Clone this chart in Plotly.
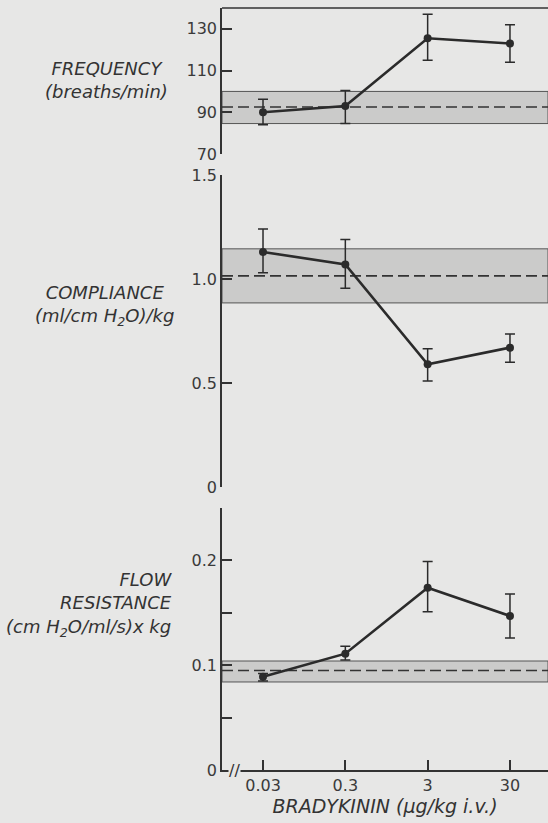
import plotly.graph_objects as go

# ---- data ----
doses = [0.03, 0.3, 3, 30]
dose_labels = ["0.03", "0.3", "3", "30"]

freq = [90, 93, 125.5, 123]
freq_hi = [96.3, 100.5, 137, 132]
freq_lo = [84, 84.6, 115, 114]
freq_band = [84.6, 100]
freq_mean = 92.5

comp = [1.13, 1.07, 0.59, 0.67]
comp_hi = [1.24, 1.19, 0.665, 0.735]
comp_lo = [1.03, 0.955, 0.51, 0.60]
comp_band = [0.885, 1.145]
comp_mean = 1.015

res = [0.089, 0.111, 0.174, 0.147]
res_hi = [0.092, 0.118, 0.199, 0.168]
res_lo = [0.085, 0.105, 0.151, 0.126]
res_band = [0.084, 0.104]
res_mean = 0.095

BG = "#e7e7e6"
INK = "#2b2b2b"
FONT = "DejaVu Sans"

W, H = 548, 823
def py(p):
    return 1 - p / H

fig = go.Figure()

x_dom = [222 / W, 1.0]
x_range = [-2.021, 1.939]

panels = [
    dict(y=freq, hi=freq_hi, lo=freq_lo, band=freq_band, mean=freq_mean,
         dom=[py(154), py(8)], rng=[70, 140],
         tv=[70, 90, 110, 130], tt=["70", "90", "110", "130"]),
    dict(y=comp, hi=comp_hi, lo=comp_lo, band=comp_band, mean=comp_mean,
         dom=[py(487), py(175)], rng=[0, 1.5],
         tv=[0, 0.5, 1.0, 1.5], tt=["0", "0.5", "1.0", "1.5"]),
    dict(y=res, hi=res_hi, lo=res_lo, band=res_band, mean=res_mean,
         dom=[py(770), py(508)], rng=[0, 0.25],
         tv=[0, 0.05, 0.1, 0.15, 0.2, 0.25], tt=["0", "", "0.1", "", "0.2", ""]),
]

shapes = []
layout_axes = {}
for i, p in enumerate(panels, start=1):
    xa = "x" if i == 1 else f"x{i}"
    ya = "y" if i == 1 else f"y{i}"
    xkey = "xaxis" if i == 1 else f"xaxis{i}"
    ykey = "yaxis" if i == 1 else f"yaxis{i}"
    # band
    shapes.append(dict(type="rect", xref=f"{xa} domain", yref=ya, x0=0, x1=1,
                       y0=p["band"][0], y1=p["band"][1], fillcolor="#cbcbca",
                       line=dict(color="#555555", width=1), layer="below"))
    shapes.append(dict(type="line", xref=f"{xa} domain", yref=ya, x0=0, x1=1,
                       y0=p["mean"], y1=p["mean"],
                       line=dict(color="#333333", width=1.6, dash="11px,5px"), layer="below"))
    fig.add_trace(go.Scatter(
        x=doses, y=p["y"], mode="lines+markers", xaxis=xa, yaxis=ya,
        line=dict(color=INK, width=2.6),
        marker=dict(color=INK, size=8),
        error_y=dict(type="data", symmetric=False,
                     array=[h - v for h, v in zip(p["hi"], p["y"])],
                     arrayminus=[v - l for l, v in zip(p["lo"], p["y"])],
                     color=INK, thickness=1.5, width=5),
        showlegend=False, cliponaxis=False))
    bottom = (i == 3)
    layout_axes[xkey] = dict(
        type="log", domain=x_dom, range=x_range, anchor=ya, automargin=False,
        tickvals=doses, ticktext=dose_labels if bottom else [""] * 4,
        showline=bottom, linecolor="#333333", linewidth=1.5,
        ticks="inside" if bottom else "", ticklen=10, tickwidth=1.5, tickcolor="#333333",
        showticklabels=bottom, showgrid=False, zeroline=False,
        tickfont=dict(family=FONT, size=16, color="#3a3a3a"),
    )
    layout_axes[ykey] = dict(
        domain=p["dom"], range=p["rng"], anchor=xa, automargin=False,
        tickvals=p["tv"], ticktext=p["tt"],
        showline=True, linecolor="#333333", linewidth=1.5,
        ticks="inside", ticklen=10, tickwidth=1.5, tickcolor="#333333",
        showgrid=False, zeroline=False,
        tickfont=dict(family=FONT, size=16, color="#3a3a3a"),
    )

# top frame line of the first panel
shapes.append(dict(type="line", xref="x domain", yref="y domain", x0=0, x1=1, y0=1, y1=1,
                   line=dict(color="#333333", width=1.5)))

layout_axes["xaxis3"]["title"] = dict(
    text="<i>BRADYKININ (μg/kg i.v.)</i>", standoff=6,
    font=dict(family=FONT, size=19, color="#333333"))

lab_font = dict(family=FONT, size=18, color="#333333")
annotations = [
    dict(text="<i>FREQUENCY<br>(breaths/min)</i>", xref="paper", yref="paper",
         x=106 / W, y=py(80), xanchor="center", yanchor="middle", align="center",
         showarrow=False, font=lab_font),
    dict(text="<i>COMPLIANCE<br>(ml/cm H<sub>2</sub>O)/kg</i>", xref="paper", yref="paper",
         x=104 / W, y=py(306), xanchor="center", yanchor="middle", align="center",
         showarrow=False, font=lab_font),
    dict(text="<i>FLOW<br>RESISTANCE<br>(cm H<sub>2</sub>O/ml/s)x kg</i>", xref="paper", yref="paper",
         x=174 / W, y=py(604), xanchor="right", yanchor="middle", align="right",
         showarrow=False, font=lab_font),
    dict(text="//", xref="paper", yref="paper", x=234 / W, y=py(770),
         xanchor="center", yanchor="middle", showarrow=False, bgcolor=BG, borderpad=0,
         font=dict(family=FONT, size=16, color="#333333")),
]

fig.update_layout(
    width=W, height=H, margin=dict(l=0, r=0, t=0, b=0, autoexpand=False),
    paper_bgcolor=BG, plot_bgcolor=BG,
    shapes=shapes, annotations=annotations, **layout_axes,
)

fig.write_html("out.html")
